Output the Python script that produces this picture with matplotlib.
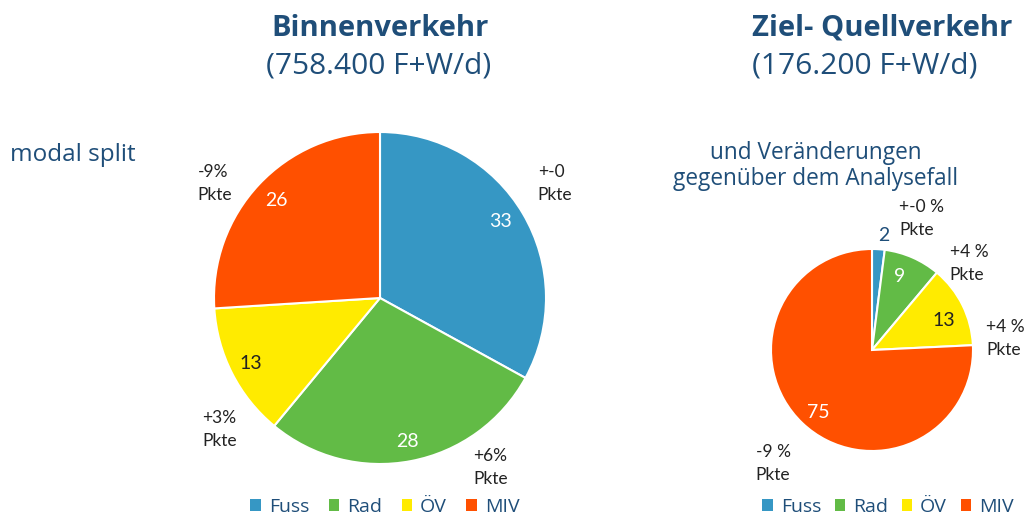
import numpy as np
import matplotlib.pyplot as plt
from matplotlib.patches import Patch

# data
modes = ["Fuss", "Rad", "ÖV", "MIV"]
colors = ["#3697C4", "#62BB46", "#FFEB00", "#FF5000"]
binnen_share = [33, 28, 13, 26]
binnen_change = ["+-0\nPkte", "+6%\nPkte", "+3%\nPkte", "-9%\nPkte"]
zq_share = [2, 9, 13, 75]
zq_change = ["+-0 %\nPkte", "+4 %\nPkte", "+4 %\nPkte", "-9 %\nPkte"]

TITLE_C = "#1F4E79"
TXT_C = "#222222"
W, H = 1028, 515

plt.rcParams['font.family'] = ['Open Sans', 'DejaVu Sans']

fig = plt.figure(figsize=(W / 100, H / 100), dpi=100)


def pie_axes(cx, cy, r):
    ax = fig.add_axes([(cx - r) / W, (H - cy - r) / H, 2 * r / W, 2 * r / H])
    return ax


def draw_pie(ax, shares, val_colors, val_dist, change, change_pos):
    wedges, _ = ax.pie(shares, colors=colors, startangle=90, counterclock=False,
                       radius=1, wedgeprops=dict(edgecolor='white', linewidth=1.5))
    ax.set_xlim(-1, 1)
    ax.set_ylim(-1, 1)
    ax.set_aspect('equal')
    ax.axis('off')
    for w, v, c, d in zip(wedges, shares, val_colors, val_dist):
        a = np.deg2rad((w.theta1 + w.theta2) / 2 + d[1])
        ax.text(d[0] * np.cos(a), d[0] * np.sin(a), str(v), color=c,
                fontsize=14, ha='center', va='center',
                family=['Lato', 'DejaVu Sans'])
    for txt, (x, y) in zip(change, change_pos):
        ax.text(x, y, txt, color=TXT_C, fontsize=12.5, ha='left', va='center',
                linespacing=1.55, family=['Lato', 'DejaVu Sans'], clip_on=False)
    return wedges


# left pie: Binnenverkehr
ax1 = pie_axes(380, 298, 166)
draw_pie(ax1, binnen_share, ["white", "white", TXT_C, "white"],
         [(0.86, 2), (0.88, 0), (0.875, 0), (0.86, 0)],
         binnen_change,
         [(0.95, 0.69), (0.56, -1.02), (-1.07, -0.79), (-1.1, 0.69)])

# right pie: Ziel- Quellverkehr
ax2 = pie_axes(872, 350, 101)
draw_pie(ax2, zq_share, [TITLE_C, "white", TXT_C, "white"],
         [(1.14, -2), (0.78, 3), (0.77, -4), (0.82, 3)],
         zq_change,
         [(0.27, 1.3), (0.77, 0.86), (1.13, 0.11), (-1.15, -1.12)])

# titles
fig.text(380 / W, 1 - 28 / H, "Binnenverkehr", color=TITLE_C, fontsize=21,
         fontweight='bold', ha='center', va='center')
fig.text(379 / W, 1 - 66 / H, "(758.400 F+W/d)", color=TITLE_C, fontsize=21.5,
         ha='center', va='center')
fig.text(882 / W, 1 - 28 / H, "Ziel- Quellverkehr", color=TITLE_C, fontsize=21,
         fontweight='bold', ha='center', va='center')
fig.text(865 / W, 1 - 66 / H, "(176.200 F+W/d)", color=TITLE_C, fontsize=21.5,
         ha='center', va='center')
fig.text(10 / W, 1 - 155 / H, "modal split", color=TITLE_C, fontsize=17.5,
         ha='left', va='center')
fig.text(816 / W, 1 - 166 / H, "und Veränderungen\ngegenüber dem Analysefall",
         color=TITLE_C, fontsize=16.3, ha='center', va='center', linespacing=1.15)

# legends
handles = [Patch(facecolor=c, edgecolor='none') for c in colors]
for cx, spacing in [(385, 1.0), (888, 0.7)]:
    leg = fig.legend(handles, modes, loc='center', ncol=4, frameon=False,
                     bbox_to_anchor=(cx / W, 1 - 507 / H), fontsize=14,
                     handlelength=0.55, handleheight=0.55, handletextpad=0.4,
                     columnspacing=spacing, borderpad=0)
    for t in leg.get_texts():
        t.set_color(TITLE_C)

fig.savefig("out.png", dpi=100)
